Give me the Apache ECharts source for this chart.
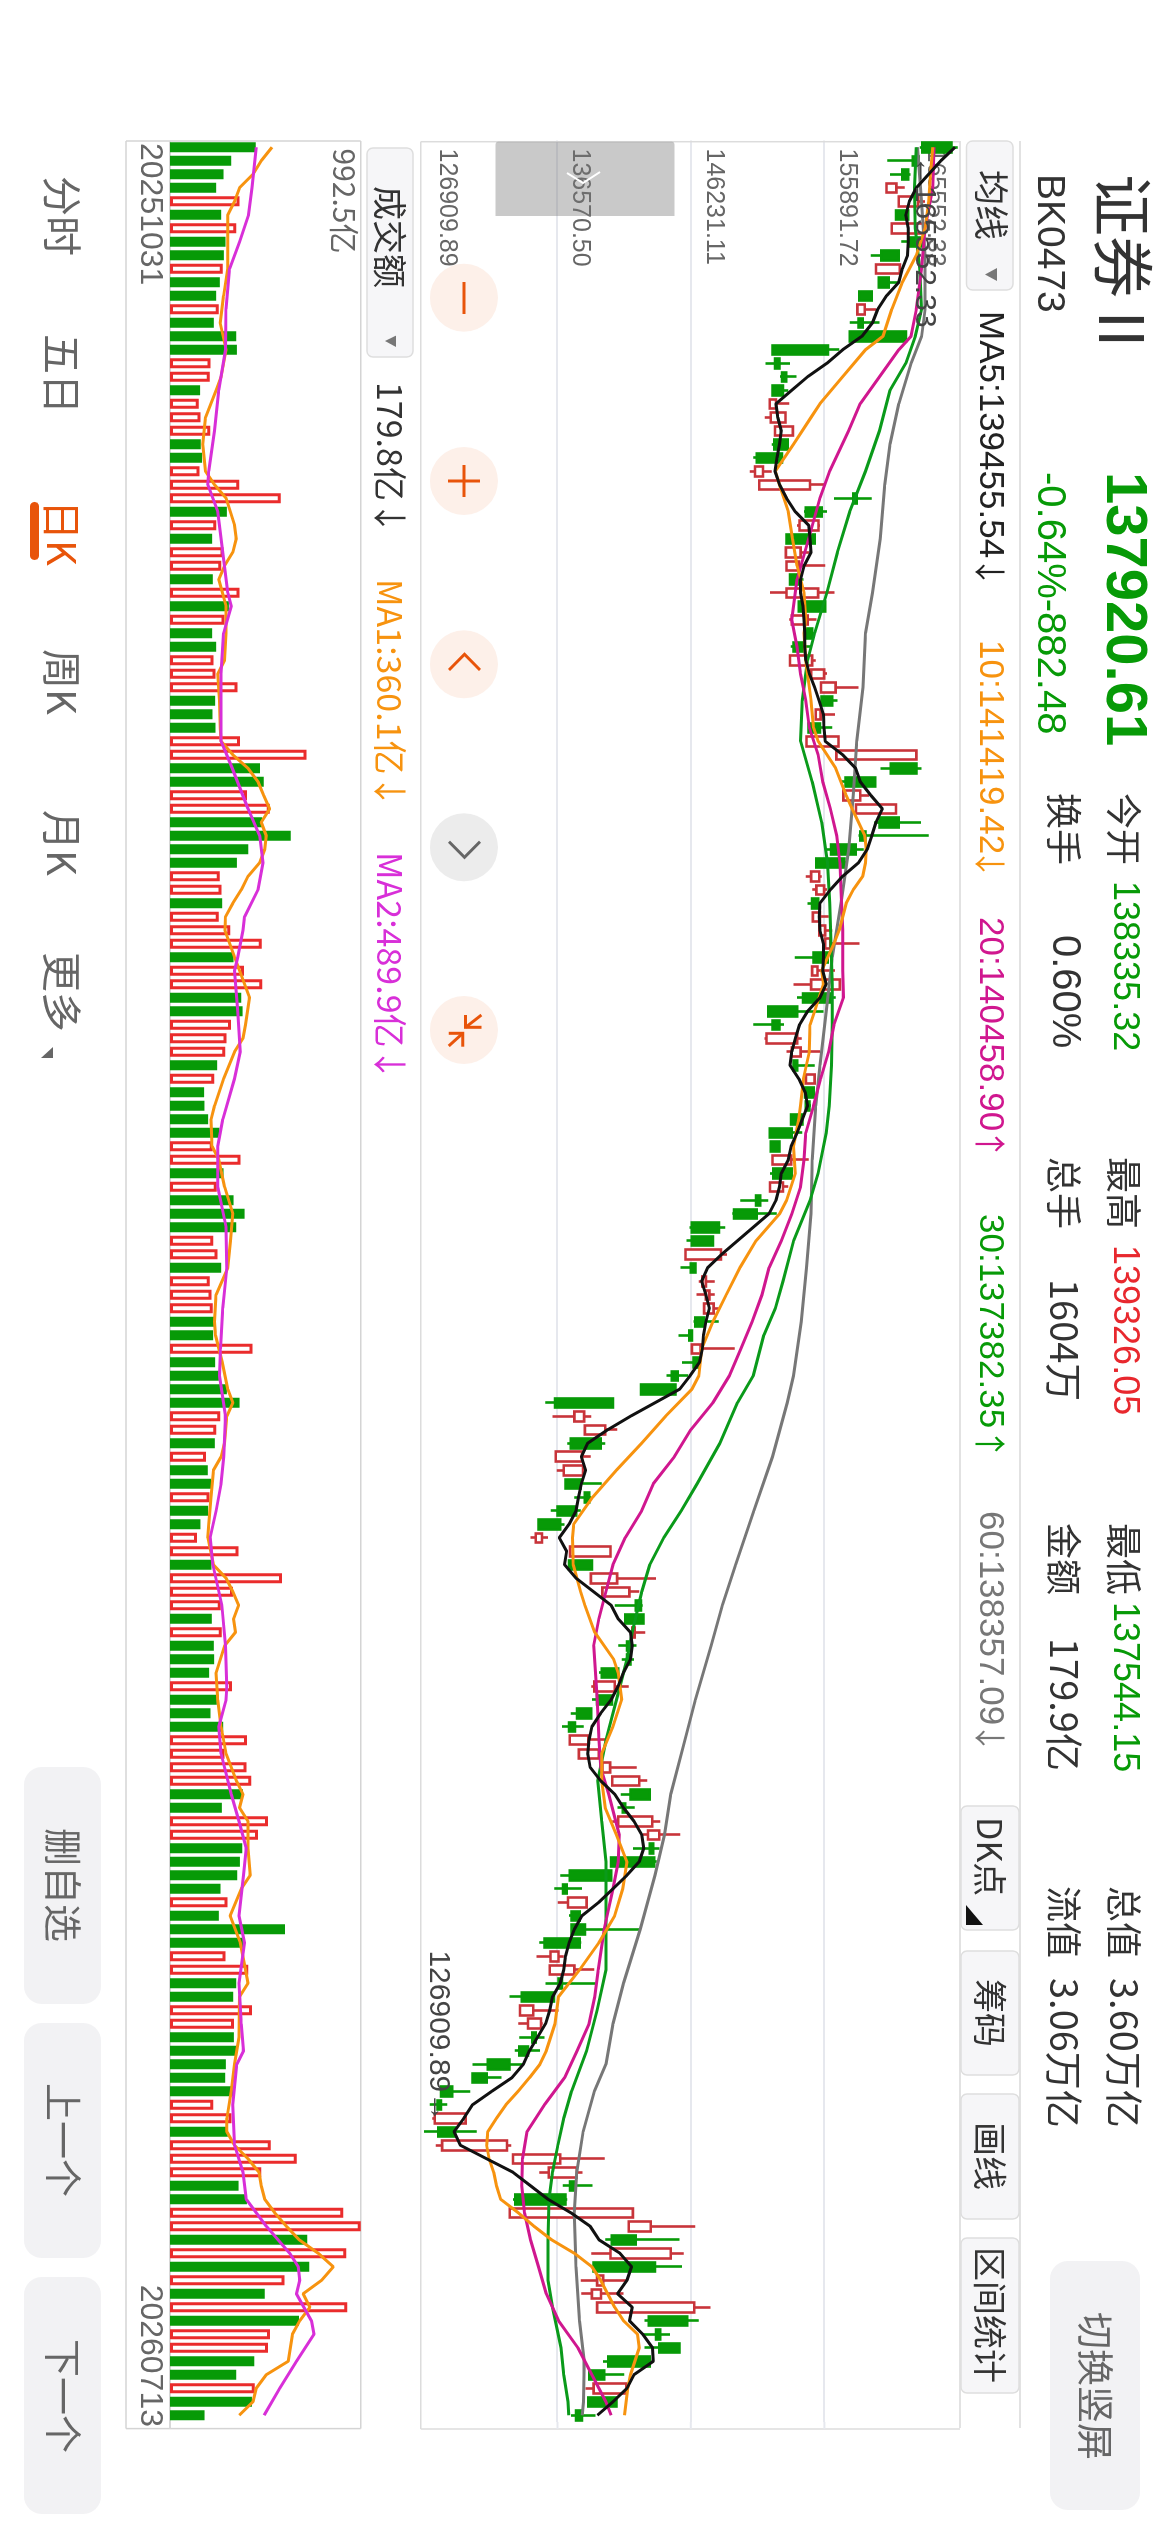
<!DOCTYPE html>
<html>
<head>
<meta charset="utf-8">
<style>
html,body{margin:0;padding:0;width:1170px;height:2532px;overflow:hidden;background:#fff}
#chart{position:absolute;left:1170px;top:0;width:2532px;height:1170px;transform-origin:0 0;transform:rotate(90deg)}
</style>
<script src="https://cdn.jsdelivr.net/npm/echarts@6/dist/echarts.min.js"></script>
</head>
<body>
<div id="chart"></div>
<script>
// Daily candles: open, close, low, high
const candles = [
[165093,162985,162807,165552.33],[162731,162299,160445,162807],[161969,161537,160648,162121],[160394,161105,160394,161715],[161283,162680,161283,163188],
[161969,161080,161080,161969],[160775,163061,160775,163061],[162934,162045,161461,163061],[161283,160013,159251,161283],[159632,161359,159632,161359],
[160546,159835,159835,161283],[159327,158413,158413,159327],[158286,158819,158286,159632],[158667,158362,157727,159886],[161791,157727,157727,161791],
[156152,152139,152139,156965],[152647,152317,151631,153409],[153130,152825,152672,153866],[152901,152139,152139,153282],[151936,152393,151936,153358],
[152012,153079,151580,153079],[152317,153612,152317,153612],[153231,152266,152088,153282],[152825,150996,150742,152825],[150869,151453,150488,152088],
[151174,154857,151174,155949],[158235,157981,156584,159327],[155695,154552,154425,156076],[154095,155466,153917,155568],[155187,153155,153155,155187],
[153104,154171,153104,154806],[153155,154044,153155,155949],[154044,153409,153409,154374],[153155,155441,151961,156635],[155949,154044,154044,155949],
[153536,154679,153358,155314],[155009,154552,154552,155187],[154298,153663,153460,154933],[153409,155009,153409,155263],[154933,155873,154933,156076],
[155644,156711,155644,158362],[156457,155695,155695,156838],[155263,155619,155263,156660],[155568,154755,154755,156457],[154603,156914,154603,156914],
[156762,162553,156762,162553],[162553,160699,159962,162934],[159581,157422,157092,159581],[157270,158489,157270,159124],[158184,161080,158184,161080],
[161283,159886,159505,162883],[158870,158489,158362,163442],[158159,156381,155949,158743],[157346,155314,155314,157549],[154933,155517,154552,155695],
[155314,155873,155009,156076],[155441,155009,154679,155568],[155060,155568,155060,156203],[155517,155949,155517,156457],[155949,156330,155949,158438],
[156127,155111,153739,156203],[155009,155390,155009,156660],[154933,157016,153663,157092],[156330,154349,153917,156711],[153917,151834,151834,155822],
[152647,152139,150742,152977],[151707,153917,151555,154247],[153536,154171,153155,155568],[153917,153663,153663,155187],[154552,155187,154552,155187],
[155111,154501,154501,155111],[154806,154552,154552,154933],[154298,153485,153485,154298],[153536,151936,151936,154298],[152647,152012,152012,152647],
[152139,153485,152139,154755],[153536,152190,151961,153536],[151961,152901,151961,153282],[151250,150945,149802,151834],[150996,149345,149218,152444],
[148253,146297,146119,148710],[147821,146297,145916,147821],[145840,148405,145840,148837],[146551,146221,145484,146551],[147059,147313,146805,147948],
[147313,147567,146627,147948],[147186,147872,147186,148253],[147186,146551,146424,148253],[146297,146119,145332,146297],[146297,146932,146297,149396],
[146805,146424,145586,146805],[145281,144849,144468,146043],[145103,142614,142614,145103],[140582,136391,135680,140582],[137788,138499,136213,139007],
[138550,140023,138550,140887],[139693,137534,137280,140023],[136442,138347,136442,138982],[137026,138423,136518,138423],[138245,137153,137153,139769],
[138855,138550,137788,139007],[137915,136569,136086,138245],[136772,135197,135197,137077],[134994,135451,134613,135883],[137483,140404,137483,140404],
[139058,137407,137407,139058],[138982,140887,138982,143706],[139820,141776,139820,142487],[142614,142233,140709,142741],[142792,141471,141471,142792],
[141979,142157,141979,142919],[141852,141598,140963,142284],[141852,141598,141217,142106],[140963,139769,139566,140963],[139236,140709,139007,141725],
[140506,139439,139058,140506],[139007,137991,137534,139007],[137839,137407,136899,138474],[137458,138804,137458,140074],[138118,139566,138118,139566],
[139820,140379,139820,142309],[140531,142487,140531,143071],[143249,141852,141141,143249],[141471,141293,140912,142157],[140963,143427,140531,144011],
[143122,143935,142741,145459],[143503,143249,142030,143960],[143579,140455,140455,143757],[140455,137458,136772,140455],[137229,136975,136340,138347],
[137331,138677,136594,138677],[138169,137585,137407,138296],[138550,137585,137585,142487],[138169,135629,135248,138296],[136061,136645,135045,137026],
[136010,137788,136010,139236],[136899,136645,135705,139312],[136315,133978,133089,136315],[133851,134816,133851,136645],[134435,135375,133724,135502],
[134994,134740,133800,135629],[134435,133800,133470,135299],[133089,131514,130422,134105],[131438,130422,130422,132505],[128949,128136,128136,130244],
[128136,127882,127323,128593],[127679,129914,127501,129914],[129152,127933,126909.89,130727],[128212,132911,127755,133216],[133343,136772,133343,139998],
[135934,137966,135248,138372],[137737,137483,136950,139109],[137153,133521,133343,137280],[133114,142030,133114,142030],[141725,143325,141725,146551],
[142233,140506,140023,145408],[140404,144773,139007,145713],[143630,139185,139185,145586],[139439,139871,138245,141598],[139058,139718,138296,141344],
[139439,146475,139439,147643],[145967,143173,142868,146805],[144011,143706,142741,144722],[145408,143935,142868,145408],[143249,140252,139871,143376],
[139947,138880,138880,141395],[139185,141547,138601,141547],[140836,138804,138804,140836],[138335.32,137920.61,137544.15,139326.05]
];

// Moving averages as [day index, value]
const ma5 = [165347,164331,163442,162553,162045,161791,161969,161969,161918,161537,161283,160394,159759,159378,158616,157219,156076,154679,153536,152393,152520,152774,152647,152469,152317,152647,153155,153790,154755,154857,154933,154425,154171,154171,154349,154425,154476,154476,154552,154806,155187,155517,155822,155873,155949,157219,158159,158489,159251,160089,159632,159327,158997,158362,157219,156330,155568,155517,155568,155822,155822,155771,156025,155568,154679,154095,153790,153536,153409,154044,154501,154679,154298,153917,153485,153282,152774,152647,152393,151885,150742,149599,148456,147440,147008,147313,147567,147313,147135,147059,146856,146170,145408,143630,141852,140201,138753,138296,138601,138296,138093,137915,137407,136696,137229,137077,137915,139185,140455,140963,141852,141979,141852,141344,140963,140455,139693,139058,138855,138753,138931,139693,140709,141344,142106,142665,142817,142487,141598,140582,139566,138347,137788,137407,137153,137026,136772,136213,136010,135705,135121,134537,134105,133267,131819,130422,129787,129076,129533,131438,133343,134613,135883,137534,138931,139566,141090,141928,141598,140912,141979,141776,142741,143452,143503,142106,141598,140582,139455.54].map((v,i)=>[i,v]);
const ma10 = [[0,163747],[2,163569],[4,163442],[6,163188],[8,162553],[10,161537],[12,160775],[14,160140],[15,158870],[17,157219],[19,155568],[20,154933],[22,153663],[24,152342],[25,152647],[27,153282],[29,153587],[31,153917],[33,154425],[35,154552],[36,154425],[38,154552],[39,154679],[41,154933],[43,155111],[44,155441],[46,156711],[48,157473],[49,157905],[51,158819],[52,158921],[53,158870],[54,158667],[55,157981],[56,157473],[58,156965],[59,156584],[61,155695],[62,155822],[64,155187],[65,154857],[67,154806],[69,154374],[71,154171],[72,154044],[74,153663],[76,153790],[78,153155],[79,152647],[81,150945],[83,149777],[85,148786],[87,147821],[89,147008],[91,146805],[92,146297],[94,144392],[96,142665],[98,140836],[100,139109],[102,137737],[103,137661],[105,137712],[107,138245],[108,138550],[110,139261],[112,140633],[113,140963],[115,141217],[117,140582],[119,139769],[121,139769],[123,140023],[125,140836],[127,141598],[129,141293],[131,140709],[133,139566],[135,138169],[137,136645],[139,136391],[141,135756],[142,135299],[143,134537],[144,133724],[145,132835],[146,132149],[147,131514],[148,131438],[149,131616],[150,131946],[151,132149],[152,132454],[153,133724],[154,134867],[155,136137],[156,137788],[157,139058],[158,139693],[160,140709],[161,141344],[162,142360],[163,142487],[165,141852],[166,141649],[168,141419.42]];
const ma20 = [[0,163823],[3,163747],[6,163188],[9,162934],[12,162553],[14,162172],[15,161283],[17,159886],[19,158489],[21,157651],[24,156279],[26,155568],[29,154755],[32,153917],[35,153536],[37,153917],[39,154171],[41,154552],[43,154806],[45,155441],[47,155771],[49,156330],[51,156787],[53,157016],[55,157092],[58,157219],[61,157219],[63,157270],[65,156584],[67,156203],[69,155619],[71,155111],[73,154552],[75,154425],[77,154171],[79,153536],[81,152774],[83,151885],[85,151377],[87,150666],[89,149853],[91,149015],[93,147821],[95,146221],[97,145027],[99,143503],[101,142665],[103,141471],[105,140582],[107,140074],[109,139566],[111,139185],[113,139312],[115,139439],[118,139566],[120,139693],[122,140277],[125,141039],[127,140963],[129,140582],[132,139947],[135,139515],[137,139261],[139,138855],[141,137991],[143,137077],[145,135629],[147,134359],[149,134029],[151,133978],[153,134181],[155,134613],[157,135197],[159,135756],[161,136645],[163,138042],[165,139058],[167,140074],[168,140458.90]];
const ma30 = [[0,162553],[3,162426],[6,162477],[9,162807],[12,162934],[14,162477],[16,161791],[18,160648],[21,159886],[24,158870],[27,157727],[30,156838],[33,156076],[36,155187],[38,154679],[41,154298],[44,154171],[47,155009],[50,155695],[53,156127],[56,156279],[59,156381],[62,156457],[65,156457],[68,156406],[71,156254],[73,156025],[76,155441],[78,154857],[81,153663],[84,152901],[86,152342],[88,151504],[91,150742],[93,149599],[96,148329],[99,146678],[101,145535],[103,144265],[105,143249],[107,142665],[110,141979],[112,141598],[115,140836],[118,140074],[121,139490],[124,139769],[127,140074],[131,140074],[135,140074],[138,139439],[141,138677],[144,137585],[146,137026],[148,136594],[150,136213],[152,135959],[155,135883],[158,135883],[160,136213],[163,136823],[165,137026],[167,137331],[168,137382.35]];
const ma60 = [[0,162629],[4,162934],[8,163188],[12,163188],[14,162934],[16,162172],[19,161283],[22,160648],[25,160267],[29,159937],[33,159378],[36,158870],[40,158692],[44,158235],[48,157981],[52,157651],[56,157092],[60,156457],[64,156025],[68,155568],[71,155263],[75,155009],[79,154933],[83,154603],[87,154222],[91,153663],[93,153206],[97,152139],[101,150793],[105,149472],[108,148507],[111,147694],[115,146551],[118,145789],[122,144773],[125,144316],[128,143630],[132,142563],[136,141344],[139,140582],[142,140074],[144,139236],[147,138423],[150,137966],[153,137788],[157,137915],[161,138169],[164,138499],[167,138448],[168,138357.09]];

// Turnover per day, in 亿, and whether that day closed up (R) or down (G)
const turnover = [445.7,318.6,278.6,240.3,362.1,266.4,344.7,289.0,280.3,275.1,259.4,240.3,254.2,228.1,344.7,348.2,210.7,207.2,156.7,149.7,158.4,208.9,160.2,167.1,153.2,360.4,576.3,296.0,240.3,219.4,278.6,266.4,222.8,362.1,306.4,283.8,219.4,240.3,226.3,236.8,351.7,235.0,221.1,236.8,363.9,710.3,468.3,487.5,400.4,518.8,480.5,628.5,407.4,348.2,259.4,268.1,271.6,254.2,313.4,477.0,330.8,384.8,480.5,370.8,377.8,316.9,294.2,287.3,245.5,229.8,177.6,179.3,198.5,257.7,222.8,367.4,278.6,243.7,330.8,388.2,344.7,224.6,247.2,266.4,207.2,215.9,222.8,229.8,224.6,430.0,235.0,254.2,296.0,362.1,261.2,240.3,233.3,188.0,196.7,214.1,205.4,198.5,158.4,141.0,356.9,215.9,583.2,327.3,264.6,217.6,269.9,228.1,229.8,203.7,322.1,243.7,210.7,276.8,400.4,283.8,398.7,423.1,379.5,269.9,510.1,457.9,376.1,363.9,349.9,262.9,299.5,254.2,598.9,379.5,289.0,407.4,344.7,329.0,426.5,332.5,332.5,348.2,290.7,287.3,332.5,224.6,320.3,301.2,524.0,659.8,475.3,356.9,400.4,901.8,992.5,713.8,917.5,724.3,595.4,492.7,922.7,672.0,520.6,510.1,438.7,344.7,440.5,426.5,179.8];
const turnoverDir = ('GGGGRGRGGR'+'GGRGGGRRGR'+'RRGGRRRGRG'+'RRGRGRGGRR'+'RGGGRRGGRR'+'GGGGRRGRRR'+'GRRGGRRRGR'+'GGGGRRGRGG'+'GRRGRRRGGR'+'GGGGRRGRGG'+'RGGRRGRRRG'+'RGGGRGGGRR'+'RRGGRRGGGG'+'RGGGRRGGRR'+'GGGGGRRGRR'+'RGGRRGRGRG'+'RGRRGGRGG').split('');
const turnoverMa1 = [[0,531],[1,475],[2,432],[3,362],[4,336],[5,301],[7,301],[9,301],[11,279],[13,261],[15,292],[17,266],[18,240],[20,185],[22,171],[24,185],[25,232],[26,292],[28,336],[29,345],[30,327],[31,284],[32,254],[34,292],[36,292],[38,284],[39,249],[41,258],[43,261],[44,266],[45,327],[46,406],[47,458],[48,487],[49,519],[50,475],[51,501],[52,493],[53,467],[54,406],[55,371],[56,327],[57,289],[58,286],[60,336],[61,362],[63,414],[65,393],[66,380],[67,336],[69,279],[71,232],[72,214],[74,219],[75,254],[77,284],[79,327],[81,315],[83,301],[85,240],[87,232],[88,237],[90,272],[92,301],[93,327],[94,296],[96,284],[97,266],[98,226],[100,214],[102,202],[103,197],[105,226],[106,292],[107,327],[108,357],[109,331],[110,341],[111,284],[113,240],[115,249],[117,266],[119,292],[121,345],[122,380],[123,362],[124,406],[126,406],[128,418],[129,371],[131,313],[133,366],[135,393],[136,406],[137,362],[140,359],[142,336],[144,319],[146,296],[147,296],[148,336],[149,406],[150,463],[151,475],[152,493],[153,545],[154,606],[155,672],[156,771],[157,850],[158,789],[159,693],[160,728],[161,675],[162,637],[164,615],[165,501],[166,449],[167,432],[168,360.1]];
const turnoverMa2 = [[0,449],[3,427],[5,409],[7,362],[9,310],[12,292],[15,289],[18,254],[21,232],[24,202],[25,197],[27,249],[30,275],[33,301],[34,319],[36,279],[39,266],[43,265],[44,266],[46,324],[49,406],[51,467],[53,484],[55,458],[57,388],[58,380],[60,353],[61,336],[64,353],[67,366],[69,336],[72,275],[74,249],[77,249],[80,292],[83,296],[86,275],[89,263],[91,258],[94,289],[97,280],[99,266],[101,240],[103,209],[105,223],[108,270],[111,289],[114,296],[115,292],[117,254],[119,266],[122,319],[124,359],[126,397],[128,383],[131,359],[133,388],[136,359],[139,371],[141,383],[142,348],[145,327],[148,336],[150,380],[152,397],[154,501],[156,623],[157,667],[158,675],[159,658],[161,736],[162,749],[164,658],[166,571],[168,489.9]];

const priceTicks = [126909.89,136570.50,146231.11,155891.72,165552.33];
const priceGridLines = [136570.50,146231.11,155891.72];
const dateLabels = ['20251031','20260713'];
const days = candles.map((_,i)=>String(i));

const SANS = '"Liberation Sans","Noto Sans CJK SC",sans-serif';
const CJK = '"Noto Sans CJK SC","Liberation Sans",sans-serif';
const GREEN = '#079a07', RED = '#c8343a', VRED = '#ea2c2c', ORANGE = '#f7930f', INK = '#333', MUTED = '#666', ACCENT = '#e8540a';

// Chrome helpers; the page is laid out in landscape and turned a quarter clockwise
function text(x, y, s, size, fill, extra) {
  return {type:'text', x, y, silent:true, z:20, style:Object.assign({text:s, fill, fontSize:size, fontFamily:CJK, verticalAlign:'middle', align:'left'}, extra||{})};
}
function box(x1, x2, y1, y2, fill, stroke, r) {
  return {type:'rect', silent:true, z:5, shape:{x:x1, y:y1, width:x2-x1, height:y2-y1, r:r}, style:{fill, stroke:stroke||null, lineWidth:stroke?1.5:0}};
}
function seg(x1, y1, x2, y2, stroke, w, z) {
  return {type:'line', silent:true, z:z||1, shape:{x1,y1,x2,y2}, style:{stroke, lineWidth:w}};
}
function path(points, stroke, w) {
  return {type:'polyline', silent:true, z:21, shape:{points}, style:{stroke, lineWidth:w, fill:null}};
}
function tri(points, fill) {
  return {type:'polygon', silent:true, z:21, shape:{points}, style:{fill}};
}
function disc(x, y, fill) {
  return {type:'circle', silent:true, z:4, shape:{cx:x, cy:y, r:34}, style:{fill}};
}

const chrome = [
  // panel rules
  seg(141,150,2428,150,'#d8d8d8',1.5), seg(141,210,2428,210,'#d8d8d8',1.5),
  seg(141.7,749.3,2429,749.3,'#dcdcdc',1.5), seg(2429,210,2429,749.3,'#dcdcdc',1.5), seg(141.7,210,141.7,749.3,'#dcdcdc',1.5),
  seg(2422,612.5,2429,612.5,'#e6e8ee',2), seg(2422,479.2,2429,479.2,'#e6e8ee',2), seg(2422,345.6,2429,345.6,'#e6e8ee',2),
  seg(141,809.3,2428.6,809.3,'#d4d4d4',1.5), seg(141,1044,2428.6,1044,'#d4d4d4',1.5),
  seg(141,809.3,141,1044,'#d4d4d4',1.5), seg(2428.6,809.3,2428.6,1044,'#d4d4d4',1.5),
  seg(141,1000,2428.6,1000,'#d8d8d8',2),

  // quote header
  text(174,47,'证券Ⅱ',62,INK),
  text(174,121,'BK0473',39,INK,{fontFamily:SANS}),
  text(472,47,'137920.61',58,GREEN,{fontFamily:SANS,fontWeight:'bold'}),
  text(472,121,'-0.64%-882.48',40,GREEN,{fontFamily:SANS}),
  text(793,46,'今开',36,INK), text(881,46,'138335.32',36,GREEN,{fontFamily:SANS}),
  text(793,106,'换手',36,INK), text(935,106,'0.60%',40,INK,{fontFamily:SANS}),
  text(1157,46,'最高',36,INK), text(1245,46,'139326.05',36,'#e8282e',{fontFamily:SANS}),
  text(1157,106,'总手',36,INK), text(1279,106,'1604万',38,INK),
  text(1523,46,'最低',36,INK), text(1602,46,'137544.15',36,GREEN,{fontFamily:SANS}),
  text(1523,106,'金额',36,INK), text(1638,106,'179.9亿',38,INK),
  text(1886,46,'总值',36,INK), text(1978,46,'3.60万亿',38,INK),
  text(1886,106,'流值',36,INK), text(1978,106,'3.06万亿',38,INK),
  box(2261,2510,30,120,'#f2f2f4',null,18),
  text(2386,75,'切换竖屏',37,MUTED,{align:'center'}),

  // moving-average toolbar
  box(141,290,157,203.5,'#f6f6f8','#dedede',6),
  text(170,179,'均线',35,INK), tri([[268,173],[281,173],[274.5,185]],'#777'),
  text(311,180,'MA5:139455.54',35,'#222',{fontFamily:SANS}), text(556,180,'↓',32,'#222'),
  text(640,180,'10:141419.42',35,ORANGE,{fontFamily:SANS}), text(848,180,'↓',32,ORANGE),
  text(917,180,'20:140458.90',35,'#d0178f',{fontFamily:SANS}), text(1128,180,'↑',32,'#d0178f'),
  text(1214,180,'30:137382.35',35,GREEN,{fontFamily:SANS}), text(1428,180,'↑',32,GREEN),
  text(1511,180,'60:138357.09',35,'#777',{fontFamily:SANS}), text(1722,180,'↓',32,'#777'),
  box(1806,1930,151,209,'#f6f6f8','#dedede',6), text(1817,180,'DK点',34,INK), tri([[1925,204],[1925,187],[1905,204]],'#111'),
  box(1951,2075,151,209,'#f6f6f8','#dedede',6), text(2013,180,'筹码',34,INK,{align:'center'}),
  box(2094,2219,151,209,'#f6f6f8','#dedede',6), text(2156,180,'画线',34,INK,{align:'center'}),
  box(2238,2393,151,209,'#f6f6f8','#dedede',6), text(2315,180,'区间统计',34,INK,{align:'center'}),

  // zoom and pan controls
  disc(297.7,706,'#fdf0e9'), seg(282,706,314,706,ACCENT,3,21),
  disc(481,706,'#fdf0e9'), seg(465,706,497,706,ACCENT,3,21), seg(481,690,481,722,ACCENT,3,21),
  disc(664.3,706,'#fdf0e9'), path([[670,721],[654.3,705.5],[670,690]],ACCENT,3),
  disc(847.3,706,'#ececec'), path([[841.7,721],[857.3,705.5],[841.7,690]],MUTED,3),
  disc(1030,706,'#fdf0e9'),
  path([[1027.3,688.6],[1027.3,704.4],[1015,704.4]],ACCENT,3), seg(1027.3,704.4,1015,688.6,ACCENT,3,21),
  path([[1033.3,721.2],[1033.3,707.2],[1046.7,707.2]],ACCENT,3), seg(1033.3,707.2,1046,721.2,ACCENT,3,21),
  {type:'rect', silent:true, z:30, shape:{x:141.7,y:495.4,width:74.3,height:179.2,r:[3,0,0,3]}, style:{fill:'rgba(120,120,120,0.4)'}},
  {type:'polyline', silent:true, z:31, shape:{points:[[173,603],[183,587],[172,570]]}, style:{stroke:'#fff',lineWidth:2,fill:null}},

  // turnover toolbar
  box(148,357,757,803,'#f6f6f8','#dedede',6),
  text(186,780,'成交额',34,INK), tri([[335.6,774],[347,774],[341,785]],'#777'),
  text(382,780,'179.8亿↓',34,INK),
  text(579,780,'MA1:360.1亿↓',34,ORANGE),
  text(852,780,'MA2:489.9亿↓',34,'#d82fd8'),

  // date labels
  text(143,1020,dateLabels[0],32,MUTED,{fontFamily:SANS}),
  text(2427,1020,dateLabels[1],32,MUTED,{fontFamily:SANS,align:'right'}),

  // period tabs
  text(176,1108,'分时',40,MUTED), text(334,1108,'五日',40,MUTED),
  text(500,1108,'日K',40,ACCENT), box(502,560,1131,1140,ACCENT,null,4.5),
  text(649,1108,'周K',40,MUTED), text(810,1108,'月K',40,MUTED), text(952,1108,'更多',40,MUTED),
  tri([[1047,1117],[1058,1117],[1058,1129]],MUTED),

  // watchlist navigation
  box(1767,2004,1069,1146,'#f2f2f4',null,18), text(1885,1107,'删自选',38,MUTED,{align:'center'}),
  box(2023,2258,1069,1146,'#f2f2f4',null,18), text(2140,1107,'上一个',38,MUTED,{align:'center'}),
  box(2277,2514,1069,1146,'#f2f2f4',null,18), text(2396,1107,'下一个',38,MUTED,{align:'center'})
];

function maLine(name, data, color, gridIndex, width) {
  return {name, type:'line', xAxisIndex:gridIndex, yAxisIndex:gridIndex, data, showSymbol:false, silent:true, z:3,
    lineStyle:{color, width}};
}

const option = {
  animation:false,
  backgroundColor:'#fff',
  grid:[
    {left:140.5, width:2281.5, top:209.8, height:539.5},
    {left:140.5, width:2281.5, top:809.3, height:190.7}
  ],
  xAxis:[
    {type:'category', gridIndex:0, data:days, axisLine:{show:false}, axisTick:{show:false}, axisLabel:{show:false}, splitLine:{show:false}},
    {type:'category', gridIndex:1, data:days, axisLine:{show:false}, axisTick:{show:false}, axisLabel:{show:false}, splitLine:{show:false}}
  ],
  yAxis:[
    {type:'value', gridIndex:0, min:126663, max:165728, axisLine:{show:false},
      axisTick:{show:false, customValues:priceGridLines},
      splitLine:{show:true, lineStyle:{color:'#e6e8ee', width:2}},
      axisLabel:{inside:true, margin:8, customValues:priceTicks, formatter:v=>Number(v).toFixed(2), color:MUTED, fontSize:25, fontFamily:SANS,
        verticalAlign:'bottom', verticalAlignMaxLabel:'top', padding:[10,0,10,0], hideOverlap:false, showMinLabel:true, showMaxLabel:true}},
    {type:'value', gridIndex:1, min:0, max:992.5, axisLine:{show:false}, axisTick:{show:false}, splitLine:{show:false},
      axisLabel:{inside:true, margin:8, customValues:[992.5], formatter:'{value}亿', color:MUTED, fontSize:30, fontFamily:CJK, verticalAlign:'top', padding:[1,0,0,0]}}
  ],
  graphic:{elements:chrome},
  series:[
    {type:'candlestick', xAxisIndex:0, yAxisIndex:0, data:candles, barWidth:10, silent:true, z:2,
      itemStyle:{color:'#fff', color0:GREEN, borderColor:RED, borderColor0:GREEN, borderWidth:2.6},
      markPoint:{silent:true, symbol:'circle', symbolSize:1, itemStyle:{color:'rgba(0,0,0,0)', borderWidth:0}, z:6,
        label:{show:true, color:'#444', fontSize:30, fontFamily:SANS},
        data:[
          {name:'high', coord:[days[0],165552.33], value:165552.33, label:{show:true, color:'#444', formatter:'←165552.33', position:'right', distance:8, offset:[0,34]}},
          {name:'low', coord:[days[147],126909.89], value:126909.89, label:{show:true, color:'#444', formatter:'126909.89→', position:'left', distance:9, offset:[0,-14]}}
        ]}},
    maLine('MA60',ma60,'#777',0,3),
    maLine('MA30',ma30,'#0a9a1a',0,3),
    maLine('MA20',ma20,'#d0178f',0,3),
    maLine('MA10',ma10,ORANGE,0,3),
    maLine('MA5',ma5,'#111',0,3),
    {type:'bar', xAxisIndex:1, yAxisIndex:1, barWidth:10, silent:true, z:2,
      data:turnover.map((v,i)=>({value:v, itemStyle: turnoverDir[i]==='R'
        ? {color:'#fff', borderColor:VRED, borderWidth:3}
        : {color:GREEN}}))},
    maLine('MA1',turnoverMa1,ORANGE,1,3),
    maLine('MA2',turnoverMa2,'#d82fd8',1,3)
  ]
};

echarts.init(document.getElementById('chart')).setOption(option);
</script>
</body>
</html>
